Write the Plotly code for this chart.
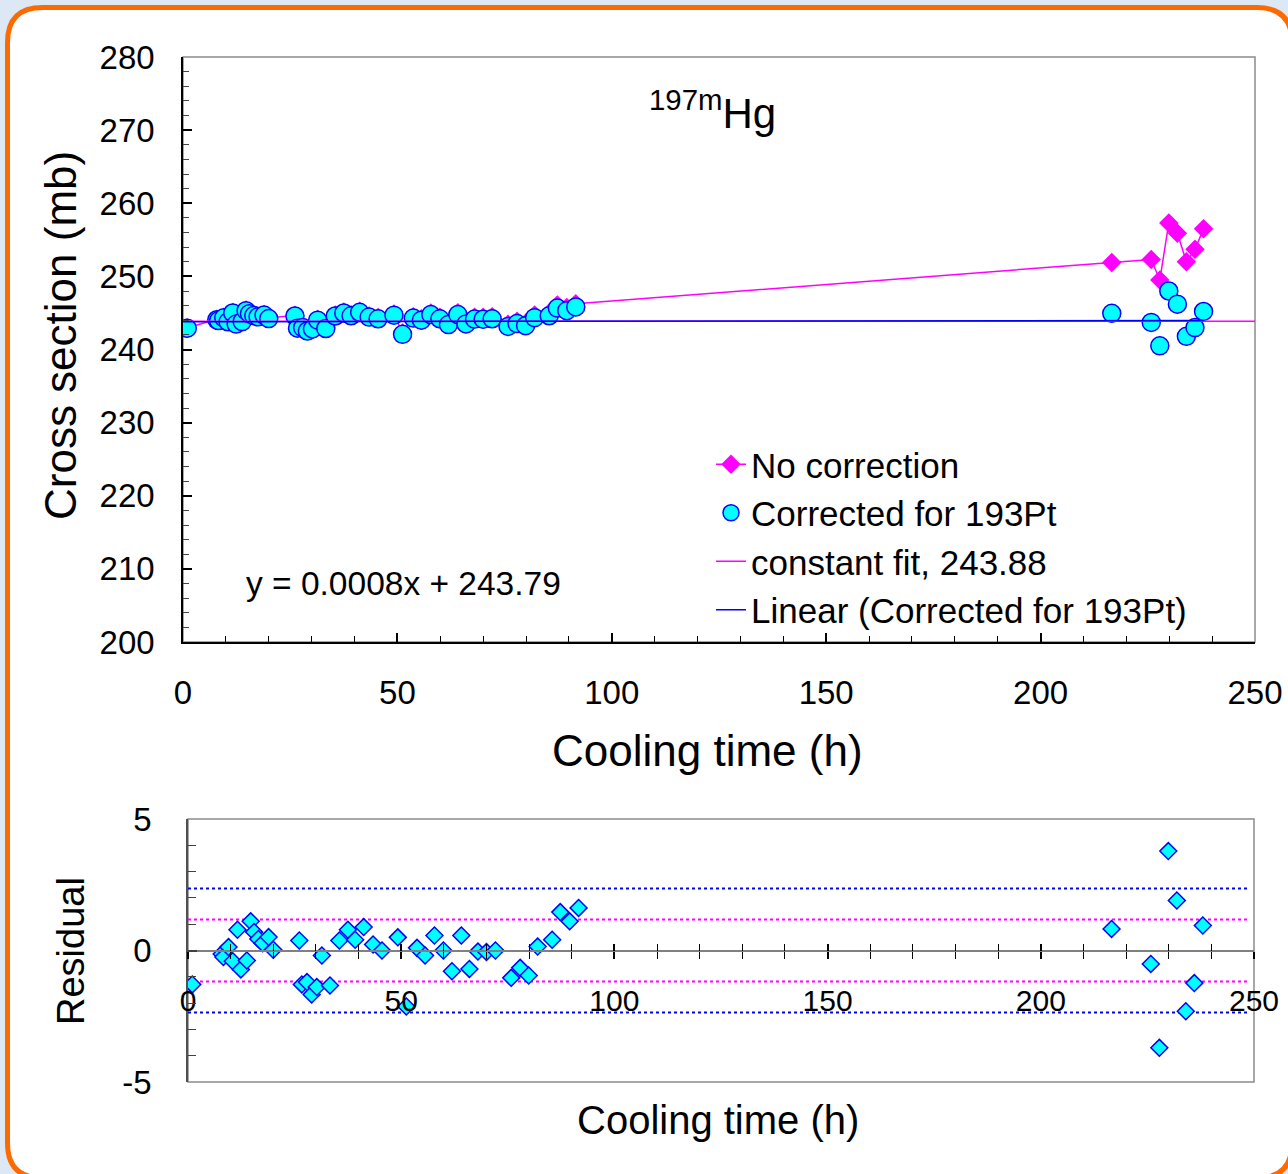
import plotly.graph_objects as go

# ---------------- data ----------------
cooling_time = [1.0, 7.9, 8.3, 9.5, 10.5, 11.6, 12.4, 13.8, 14.7, 15.5, 16.5, 17.5, 18.9, 20.0,
                26.1, 26.7, 27.9, 29.0, 30.2, 31.4, 33.3, 35.5, 37.5, 39.2, 41.2, 43.4, 45.5, 49.2,
                51.2, 53.7, 55.6, 57.8, 59.9, 61.9, 64.1, 66.0, 68.0, 70.0, 72.1, 75.8, 77.9, 79.9,
                82.0, 85.4, 87.3, 89.5, 91.6,
                216.6, 225.8, 227.8, 229.9, 231.9, 234.0, 236.0, 238.0]

corrected = [242.91, 244.07, 243.95, 244.33, 243.79, 244.99, 243.48, 243.82, 245.31, 244.90, 244.64,
             244.48, 244.71, 244.23, 244.58, 242.91, 243.00, 242.53, 242.81, 244.01, 242.87, 244.58,
             244.99, 244.61, 245.09, 244.43, 244.20, 244.70, 242.07, 244.30, 244.01, 244.77, 244.20,
             243.41, 244.77, 243.50, 244.16, 244.14, 244.20, 243.16, 243.54, 243.25, 244.35, 244.61,
             245.66, 245.31, 245.82,
             244.95, 243.70, 240.50, 248.00, 246.20, 241.80, 243.00, 245.20]

no_correction = [242.97, 244.14, 244.02, 244.40, 243.86, 245.07, 243.56, 243.90, 245.39, 244.98, 244.72,
                 244.57, 244.80, 244.32, 244.68, 243.01, 243.10, 242.64, 242.92, 244.12, 242.98, 244.71,
                 245.13, 244.75, 245.23, 244.58, 244.36, 244.87, 242.25, 244.49, 244.21, 244.98, 244.42,
                 243.64, 245.01, 243.75, 244.42, 244.42, 244.49, 243.47, 243.87, 243.59, 244.71, 245.00,
                 246.07, 245.74, 246.26,
                 251.9, 252.3, 249.5, 257.3, 255.9, 252.0, 253.7, 256.5]

residual = [-1.29, -0.13, -0.25, 0.13, -0.41, 0.79, -0.72, -0.38, 1.11, 0.70, 0.44, 0.28, 0.51, 0.03,
            0.38, -1.29, -1.20, -1.67, -1.39, -0.19, -1.33, 0.38, 0.79, 0.41, 0.89, 0.23, 0.00, 0.50,
            -2.13, 0.10, -0.19, 0.57, 0.00, -0.79, 0.57, -0.70, -0.04, -0.06, 0.00, -1.04, -0.66, -0.95,
            0.15, 0.41, 1.46, 1.11, 1.62,
            0.82, -0.51, -3.70, 3.78, 1.90, -2.31, -1.24, 0.95]

const_fit_x = [0, 250]
const_fit_y = [243.88, 243.88]
linear_x = [0, 238]
linear_y = [243.79, 243.98]

sigma1 = 1.18
sigma2 = 2.36
band_x = [0, 249]

x_ticks = [0, 50, 100, 150, 200, 250]
y_ticks_top = [200, 210, 220, 230, 240, 250, 260, 270, 280]
y_ticks_res = [-5, 0, 5]

# ---------------- layout helpers ----------------
W, H = 1288, 1174
FONT = "Arial, 'Liberation Sans', sans-serif"


def px_x(p):
    return p / W


def px_y(p):
    return 1 - p / H


MAG = "#ff00ff"
BLU = "#0000ff"
CYA = "#00ffff"

fig = go.Figure()

# ---- top panel ----
fig.add_trace(go.Scatter(x=cooling_time, y=no_correction, mode="lines+markers", name="No correction",
                         line=dict(color=MAG, width=1.5),
                         marker=dict(symbol="diamond", size=15, color=MAG),
                         xaxis="x", yaxis="y", legendgroup="a"))
fig.add_trace(go.Scatter(x=cooling_time, y=corrected, mode="markers", name="Corrected for 193Pt",
                         marker=dict(symbol="circle", size=18, color=CYA, line=dict(color=BLU, width=1.5)),
                         xaxis="x", yaxis="y", legendgroup="b"))
fig.add_trace(go.Scatter(x=const_fit_x, y=const_fit_y, mode="lines", name="constant fit, 243.88",
                         line=dict(color=MAG, width=1.5), xaxis="x", yaxis="y", legendgroup="c"))
fig.add_trace(go.Scatter(x=linear_x, y=linear_y, mode="lines", name="Linear (Corrected for 193Pt)",
                         line=dict(color=BLU, width=1.5), xaxis="x", yaxis="y", legendgroup="d"))

# ---- residual panel ----
for s, c in [(sigma1, MAG), (-sigma1, MAG), (sigma2, BLU), (-sigma2, BLU)]:
    fig.add_trace(go.Scatter(x=band_x, y=[s, s], mode="lines", showlegend=False, hoverinfo="skip",
                             line=dict(color=c, width=2, dash="dot"), xaxis="x2", yaxis="y2"))
fig.add_trace(go.Scatter(x=cooling_time, y=residual, mode="markers", showlegend=False,
                         marker=dict(symbol="diamond", size=13, color=CYA, line=dict(color=BLU, width=1.5)),
                         xaxis="x2", yaxis="y2"))
# helper (invisible) trace to activate the overlaid tick axis
fig.add_trace(go.Scatter(x=[0], y=[0], mode="markers", showlegend=False, hoverinfo="skip",
                         marker=dict(size=1, opacity=0), xaxis="x3", yaxis="y2"))

top_dom_x = [px_x(183), px_x(1255)]
top_dom_y = [px_y(642), px_y(57)]
bot_dom_x = [px_x(188), px_x(1254)]
bot_dom_y = [px_y(1082), px_y(819)]
zero_pos = (bot_dom_y[0] + bot_dom_y[1]) / 2

tickfont = dict(family=FONT, size=33, color="black")

fig.update_layout(
    width=W, height=H, autosize=False,
    margin=dict(l=0, r=0, t=0, b=0, pad=0, autoexpand=False),
    paper_bgcolor="#dde8f5",
    plot_bgcolor="white",
    font=dict(family=FONT, color="black"),
    showlegend=True,
    legend=dict(x=px_x(711), y=px_y(435), xanchor="left", yanchor="top",
                bgcolor="rgba(0,0,0,0)", font=dict(family=FONT, size=35, color="black"),
                tracegroupgap=0, itemwidth=30),
    xaxis=dict(domain=top_dom_x, anchor="y", range=[0, 250], tickvals=x_ticks, automargin=False,
               showline=True, linecolor="black", linewidth=1.5,
               ticks="inside", ticklen=9, tickwidth=1.5, tickcolor="black",
               minor=dict(dtick=10, tick0=0, ticks="inside", ticklen=6, tickwidth=1.2, tickcolor="black"),
               showgrid=False, zeroline=False, tickfont=tickfont, ticklabelstandoff=21),
    yaxis=dict(domain=top_dom_y, anchor="x", range=[200, 280], tickvals=y_ticks_top, automargin=False,
               showline=True, linecolor="black", linewidth=1.5,
               ticks="inside", ticklen=9, tickwidth=1.5, tickcolor="black",
               minor=dict(dtick=2, tick0=200, ticks="inside", ticklen=6, tickwidth=1.2, tickcolor="#444"),
               showgrid=False, zeroline=False, tickfont=tickfont, ticklabelstandoff=20),
    xaxis2=dict(domain=bot_dom_x, anchor="free", position=zero_pos, range=[0, 250], tickvals=x_ticks,
                automargin=False,
                showline=True, linecolor="#808080", linewidth=2,
                ticks="outside", ticklen=7, tickwidth=1.5, tickcolor="black",
                minor=dict(dtick=10, tick0=0, ticks="outside", ticklen=7, tickwidth=1.2, tickcolor="black"),
                showgrid=False, zeroline=False, tickfont=dict(family=FONT, size=30, color="black"),
                ticklabelstandoff=16),
    xaxis3=dict(domain=bot_dom_x, anchor="free", position=zero_pos, overlaying="x2", range=[0, 250],
                tickvals=x_ticks, showline=False, showticklabels=False, automargin=False,
                ticks="inside", ticklen=7, tickwidth=1.5, tickcolor="black",
                minor=dict(dtick=10, tick0=0, ticks="inside", ticklen=7, tickwidth=1.2, tickcolor="black"),
                showgrid=False, zeroline=False),
    yaxis2=dict(domain=bot_dom_y, anchor="x2", range=[-5, 5], tickvals=y_ticks_res,
                ticktext=["-5", "0", "5"], automargin=False,
                showline=True, linecolor="#505050", linewidth=1.5,
                ticks="inside", ticklen=9, tickwidth=1.5, tickcolor="#404040",
                minor=dict(dtick=1, tick0=0, ticks="inside", ticklen=8, tickwidth=1.2, tickcolor="#404040"),
                showgrid=False, zeroline=False, tickfont=tickfont, ticklabelstandoff=28),
)

# ---- frame and plot borders ----
l, t, r, b = 7.5, 7.5, 1292, 1178
rad = 35
x0, x1 = px_x(l), px_x(r)
y0, y1 = px_y(t), px_y(b)
rx, ry = rad / W, rad / H
path = (f"M {x0},{y0 - ry} Q {x0},{y0} {x0 + rx},{y0} L {x1 - rx},{y0} Q {x1},{y0} {x1},{y0 - ry} "
        f"L {x1},{y1 + ry} Q {x1},{y1} {x1 - rx},{y1} L {x0 + rx},{y1} Q {x0},{y1} {x0},{y1 + ry} Z")
fig.add_shape(type="path", path=path, xref="paper", yref="paper",
              line=dict(color="#ff6a00", width=5), fillcolor="white", layer="below")
fig.add_shape(type="rect", xref="x domain", yref="y domain", x0=0, x1=1, y0=0, y1=1,
              line=dict(color="#8c8c8c", width=1.5), layer="below")
fig.add_shape(type="rect", xref="x2 domain", yref="y2 domain", x0=0, x1=1, y0=0, y1=1,
              line=dict(color="#8c8c8c", width=1.5), layer="below")

# ---- text ----
ann = [
    dict(text="Cross section (mb)", x=px_x(60), y=px_y(336), textangle=-90, font_size=44),
    dict(text="Cooling time (h)", x=px_x(707), y=px_y(750), font_size=44),
    dict(text="Residual", x=px_x(71), y=px_y(951), textangle=-90, font_size=38),
    dict(text="Cooling time (h)", x=px_x(718), y=px_y(1120), font_size=40),
    dict(text="<sup>197m</sup>Hg", x=px_x(712), y=px_y(110), font_size=42),
    dict(text="y = 0.0008x + 243.79", x=px_x(403), y=px_y(584), font_size=33.5),
]
for a in ann:
    fs = a.pop("font_size")
    fig.add_annotation(xref="paper", yref="paper", showarrow=False, xanchor="center", yanchor="middle",
                       font=dict(family=FONT, size=fs, color="black"), **a)

fig.write_html("out.html", config={"displayModeBar": False},
               post_script="document.body.style.margin='0';document.body.style.overflow='hidden';")
